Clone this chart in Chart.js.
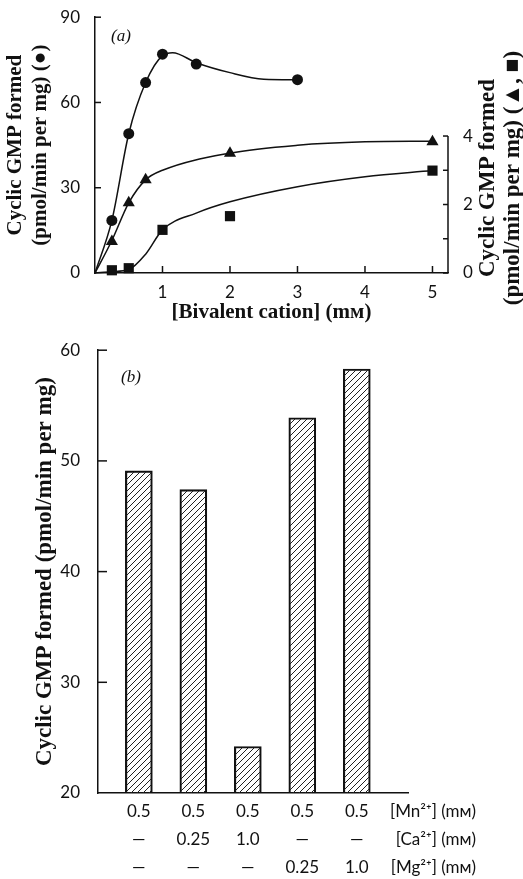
<!DOCTYPE html>
<html>
<head>
<meta charset="utf-8">
<script src="https://cdn.jsdelivr.net/npm/chart.js@4"></script>
<style>
  body { margin: 0; background: #fff; width: 523px; height: 879px; overflow: hidden; position: relative; }
  canvas { position: absolute; left: 0; }
  #chartA { top: 0; }
  #chartB { top: 330px; }
</style>
</head>
<body>
<canvas id="chartA" width="523" height="330"></canvas>
<canvas id="chartB" width="523" height="549"></canvas>
<script>
// (a) measured points
var circleX = [0.25, 0.5, 0.75, 1, 1.5, 3];
var circleY = [18.5, 49, 67, 77, 73.5, 68];
var triX = [0.25, 0.5, 0.75, 2, 5];
var triY = [0.92, 2.05, 2.72, 3.5, 3.83];
var sqX = [0.25, 0.5, 1, 2, 5];
var sqY = [0.08, 0.14, 1.26, 1.66, 2.99];

// (a) the hand drawn curves
var circleCurveX = [0, 0.25, 0.5, 0.75, 1, 1.15, 1.5, 2, 2.5, 3];
var circleCurveY = [0, 18.5, 49, 67, 76.5, 77.5, 74, 70.5, 68.2, 68];
var triCurveX = [0, 0.25, 0.5, 0.75, 1, 2, 3, 4, 5];
var triCurveY = [0, 0.95, 2.05, 2.72, 3.0, 3.5, 3.73, 3.83, 3.85];
var sqCurveX = [0, 0.25, 0.5, 0.75, 1, 1.5, 2, 3, 4, 5];
var sqCurveY = [0, 0.04, 0.1, 0.55, 1.26, 1.75, 2.08, 2.52, 2.81, 2.99];

// (b) bars
var mnConc = ['0.5', '0.5', '0.5', '0.5', '0.5'];
var caConc = ['\u2014', '0.25', '1.0', '\u2014', '\u2014'];
var mgConc = ['\u2014', '\u2014', '\u2014', '0.25', '1.0'];
var rowNames = ['[Mn\u00b2\u207a] (m\u1d0d)', '[Ca\u00b2\u207a] (m\u1d0d)', '[Mg\u00b2\u207a] (m\u1d0d)'];
var gmpFormed = [49.1, 47.4, 24.2, 53.9, 58.3];

var INK = '#111';
var serif = 'Liberation Serif';
var sans = "Lato, 'Noto Sans', 'DejaVu Sans'";

function pts(xs, ys) {
  return xs.map(function (x, i) { return { x: x, y: ys[i] }; });
}

function hatch() {
  var c = document.createElement('canvas');
  c.width = 6; c.height = 6;
  var g = c.getContext('2d');
  g.strokeStyle = '#222';
  g.lineWidth = 1;
  g.beginPath();
  g.moveTo(0, 6); g.lineTo(6, 0);
  g.moveTo(-1, 1); g.lineTo(1, -1);
  g.moveTo(5, 7); g.lineTo(7, 5);
  g.stroke();
  return g.createPattern(c, 'repeat');
}

// tick marks drawn inside the axes, like the printed figure
var inwardTicks = {
  id: 'inwardTicks',
  afterDraw: function (chart, args, opts) {
    var ctx = chart.ctx;
    ctx.save();
    ctx.strokeStyle = INK;
    ctx.lineWidth = 1.5;
    (opts.list || []).forEach(function (t) {
      var s = chart.scales[t.axis];
      s.ticks.forEach(function (tk) {
        var v = tk.value;
        if (v < t.from || v > t.to || !Number.isInteger(v)) return;
        var p = s.getPixelForValue(v);
        ctx.beginPath();
        if (s.isHorizontal()) { ctx.moveTo(p, s.top); ctx.lineTo(p, s.top - t.len); }
        else if (s.position === 'left') { ctx.moveTo(s.right, p); ctx.lineTo(s.right + t.len, p); }
        else { ctx.moveTo(s.left, p); ctx.lineTo(s.left - t.len, p); }
        ctx.stroke();
      });
      if (t.line) {
        ctx.beginPath();
        ctx.moveTo(s.left, s.getPixelForValue(t.from));
        ctx.lineTo(s.left, s.getPixelForValue(t.to));
        ctx.stroke();
      }
    });
    ctx.restore();
  }
};

var notes = {
  id: 'notes',
  afterDraw: function (chart, args, opts) {
    var ctx = chart.ctx;
    var area = chart.chartArea;
    ctx.save();
    ctx.fillStyle = INK;
    (opts.texts || []).forEach(function (t) {
      var lines = [].concat(t.text);
      ctx.save();
      ctx.font = t.font;
      ctx.textAlign = t.align || 'center';
      ctx.textBaseline = 'middle';
      ctx.translate(t.x(area, chart), t.y(area, chart));
      if (t.rot) ctx.rotate(t.rot);
      lines.forEach(function (ln, i) { ctx.fillText(ln, 0, i * (t.lh || 0)); });
      ctx.restore();
    });
    ctx.restore();
  }
};

var curve = { showLine: true, borderColor: INK, borderWidth: 1.5, pointRadius: 0, cubicInterpolationMode: 'monotone', clip: false };
var marks = { showLine: false, backgroundColor: INK, borderColor: INK, borderWidth: 0, clip: false };

new Chart(document.getElementById('chartA').getContext('2d'), {
  type: 'scatter',
  data: {
    datasets: [
      Object.assign({ data: pts(circleCurveX, circleCurveY), yAxisID: 'y' }, curve),
      Object.assign({ data: pts(triCurveX, triCurveY), yAxisID: 'y2' }, curve),
      Object.assign({ data: pts(sqCurveX, sqCurveY), yAxisID: 'y2' }, curve),
      Object.assign({ data: pts(circleX, circleY), yAxisID: 'y', pointStyle: 'circle', pointRadius: 5.5 }, marks),
      Object.assign({ data: pts(triX, triY), yAxisID: 'y2', pointStyle: 'triangle', pointRadius: 7 }, marks),
      Object.assign({ data: pts(sqX, sqY), yAxisID: 'y2', pointStyle: 'rect', pointRadius: 7.2 }, marks)
    ]
  },
  options: {
    responsive: false,
    animation: false,
    events: [],
    layout: { padding: { top: 17, left: 0, right: 0, bottom: 0 } },
    plugins: {
      legend: { display: false },
      tooltip: { enabled: false },
      inwardTicks: { list: [
        { axis: 'x', from: 1, to: 5, len: 7 },
        { axis: 'y', from: 30, to: 90, len: 6 },
        { axis: 'y2', from: 0, to: 4, len: 5, line: true }
      ] },
      notes: { texts: [
        { text: '(a)', font: 'italic 17px ' + serif, x: function (a) { return a.left + 26; }, y: function (a) { return a.top + 19; } },
        { text: ['Cyclic GMP formed', '(pmol/min per mg) (\u25b2, \u25a0)'], font: 'bold 23px ' + serif, lh: 25, rot: -Math.PI / 2,
          x: function (a) { return a.right + 40; }, y: function (a) { return 178; } }
      ] }
    },
    scales: {
      x: {
        type: 'linear', min: 0, max: 5.23,
        grid: { display: false },
        border: { display: true, color: INK, width: 1.5 },
        ticks: { stepSize: 1, includeBounds: false, padding: 1, color: INK, font: { family: sans, size: 17 },
          callback: function (v) { return v > 0 && Number.isInteger(v) ? String(v) : ''; } },
        title: { display: true, text: '[Bivalent cation] (m\u1d0d)', color: INK,
          font: { family: serif, size: 21, weight: 'bold' }, padding: { top: 0, bottom: 5 } },
        afterFit: function (s) { s.height = 57; }
      },
      y: {
        position: 'left', min: 0, max: 90,
        grid: { display: false },
        border: { display: true, color: INK, width: 1.5 },
        ticks: { stepSize: 30, padding: 7, color: INK, font: { family: sans, size: 17 } },
        title: { display: true, text: ['Cyclic GMP formed', '(pmol/min per mg) (\u25cf)'], color: INK,
          font: { family: serif, size: 21, weight: 'bold', lineHeight: 1.15 }, padding: { top: 4, bottom: 0 } },
        afterFit: function (s) { s.width = 95; }
      },
      y2: {
        position: 'right', min: 0, max: 7.47,
        grid: { display: false },
        border: { display: false },
        ticks: { stepSize: 1, padding: 7, color: INK, font: { family: sans, size: 17 },
          callback: function (v) { return (v <= 4 && v % 2 === 0) ? String(v) : ''; } },
        afterFit: function (s) { s.width = 75; }
      }
    }
  },
  plugins: [inwardTicks, notes]
});

var barPoints = gmpFormed.map(function (v, i) { return { x: i, y: v }; });

new Chart(document.getElementById('chartB').getContext('2d'), {
  type: 'bar',
  data: {
    datasets: [{
      data: barPoints,
      backgroundColor: hatch(),
      borderColor: INK,
      borderWidth: 1.5,
      barThickness: 27
    }]
  },
  options: {
    responsive: false,
    animation: false,
    events: [],
    layout: { padding: { top: 15, left: 0, right: 115, bottom: 0 } },
    plugins: {
      legend: { display: false },
      tooltip: { enabled: false },
      inwardTicks: { list: [{ axis: 'y', from: 30, to: 60, len: 9 }] },
      notes: { texts: [
        { text: '(b)', font: 'italic 17px ' + serif, x: function (a) { return a.left + 33; }, y: function (a) { return a.top + 27; } },
        { text: rowNames[0], font: '17px ' + sans, align: 'right', x: function (a) { return a.right + 68; }, y: function (a) { return a.bottom + 19; } },
        { text: rowNames[1], font: '17px ' + sans, align: 'right', x: function (a) { return a.right + 68; }, y: function (a) { return a.bottom + 47; } },
        { text: rowNames[2], font: '17px ' + sans, align: 'right', x: function (a) { return a.right + 68; }, y: function (a) { return a.bottom + 75; } }
      ] }
    },
    scales: {
      x: {
        type: 'linear', min: -0.75, max: 4.94, offset: false,
        grid: { display: false },
        border: { display: true, color: INK, width: 1.5 },
        ticks: { stepSize: 1, includeBounds: false, padding: -4, color: INK, maxRotation: 0, autoSkip: false,
          font: { family: sans, size: 17, lineHeight: 1.65 },
          callback: function (v) {
            if (!Number.isInteger(v) || v < 0 || v >= mnConc.length) return '';
            return [mnConc[v], caConc[v], mgConc[v]];
          } },
        afterFit: function (s) { s.height = 86; }
      },
      y: {
        min: 20, max: 60,
        grid: { display: false },
        border: { display: true, color: INK, width: 1.5 },
        ticks: { stepSize: 10, padding: 10, color: INK, font: { family: sans, size: 17 } },
        title: { display: true, text: 'Cyclic GMP formed (pmol/min per mg)', color: INK,
          font: { family: serif, size: 23, weight: 'bold' }, padding: { top: 31, bottom: 0 } },
        afterFit: function (s) { s.width = 98; }
      }
    }
  },
  plugins: [inwardTicks, notes]
});
</script>
</body>
</html>
